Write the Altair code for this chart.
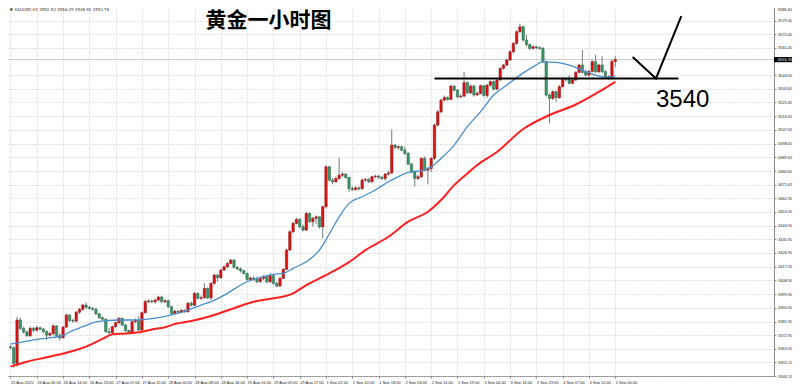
import altair as alt
import pandas as pd

# ---------------- data ----------------
open_ = [3365.4, 3364.7, 3354.4, 3382.9, 3377.4, 3375.0, 3372.6, 3377.4, 3376.2, 3377.8,
         3377.0, 3375.4, 3373.0, 3374.0, 3379.0, 3372.6, 3371.2, 3378.2, 3386.1, 3382.6,
         3382.2, 3388.0, 3389.9, 3392.7, 3391.2, 3390.5, 3390.0, 3387.0, 3384.4, 3383.4,
         3375.2, 3374.6, 3378.5, 3381.1, 3384.0, 3379.6, 3375.9, 3374.6, 3381.8, 3382.6,
         3376.3, 3387.7, 3394.9, 3395.4, 3394.9, 3396.0, 3398.0, 3394.9, 3395.6, 3391.6,
         3387.2, 3388.6, 3388.0, 3389.2, 3388.3, 3393.8, 3392.6, 3400.3, 3397.1, 3397.6,
         3403.6, 3397.4, 3406.9, 3412.4, 3410.6, 3415.7, 3417.8, 3420.0, 3422.2, 3417.4,
         3416.4, 3415.2, 3413.4, 3409.5, 3410.4, 3409.6, 3408.0, 3410.2, 3411.3, 3408.0,
         3412.0, 3406.9, 3405.2, 3410.2, 3416.1, 3428.8, 3440.8, 3446.3, 3448.9, 3444.1,
         3441.9, 3452.8, 3447.4, 3449.6, 3450.6, 3444.0, 3457.2, 3483.4, 3474.7, 3473.6,
         3475.8, 3477.9, 3478.6, 3476.4, 3469.2, 3468.5, 3469.6, 3469.0, 3474.7, 3475.1,
         3473.6, 3476.9, 3477.3, 3476.6, 3475.8, 3478.6, 3479.4, 3497.6, 3496.1, 3496.6,
         3494.3, 3492.2, 3485.2, 3480.1, 3475.8, 3476.9, 3488.9, 3481.2, 3482.3, 3488.9,
         3510.8, 3519.5, 3527.2, 3528.9, 3527.6, 3536.3, 3533.7, 3529.3, 3529.8, 3538.6,
         3532.0, 3536.4, 3530.6, 3531.6, 3536.6, 3530.2, 3537.0, 3539.3, 3534.4, 3540.4,
         3548.0, 3550.2, 3553.5, 3558.9, 3564.4, 3572.1, 3575.3, 3566.6, 3563.6, 3561.1,
         3562.2, 3561.6, 3561.1, 3552.4, 3530.5, 3528.3, 3532.7, 3528.8, 3536.0, 3541.4,
         3540.8, 3538.2, 3540.4, 3545.4, 3550.2, 3545.4, 3543.6, 3546.0, 3552.4, 3545.8,
         3550.2, 3545.8, 3542.5, 3541.4, 3552.53]

high_ = [3366.2, 3365.5, 3385.0, 3384.5, 3378.5, 3376.0, 3378.6, 3378.4, 3379.0, 3378.6,
         3377.8, 3376.0, 3375.2, 3380.2, 3379.6, 3374.4, 3379.0, 3387.2, 3386.8, 3383.8,
         3388.8, 3390.8, 3393.6, 3394.4, 3392.0, 3391.4, 3390.6, 3387.6, 3385.2, 3384.0,
         3377.6, 3379.2, 3382.0, 3384.8, 3384.6, 3380.2, 3376.6, 3382.6, 3384.0, 3385.4,
         3388.4, 3396.0, 3396.4, 3396.2, 3397.0, 3398.8, 3398.8, 3396.6, 3396.2, 3392.2,
         3389.6, 3389.4, 3390.0, 3390.0, 3394.8, 3395.0, 3401.2, 3401.0, 3399.0, 3406.9,
         3404.2, 3407.8, 3413.2, 3413.0, 3416.6, 3418.6, 3421.0, 3423.0, 3422.8, 3418.2,
         3417.4, 3415.8, 3414.0, 3411.4, 3411.6, 3411.4, 3411.0, 3412.4, 3411.8, 3413.6,
         3412.6, 3408.0, 3411.0, 3417.0, 3429.8, 3441.8, 3447.2, 3450.0, 3449.6, 3445.6,
         3453.9, 3453.4, 3450.6, 3451.6, 3451.0, 3458.0, 3484.6, 3484.0, 3476.0, 3477.0,
         3489.5, 3480.0, 3479.2, 3477.0, 3470.6, 3470.8, 3470.6, 3475.8, 3476.0, 3476.0,
         3477.6, 3478.2, 3478.0, 3477.4, 3479.4, 3481.0, 3507.9, 3498.6, 3497.6, 3497.2,
         3496.6, 3493.0, 3486.0, 3481.0, 3478.0, 3489.8, 3490.2, 3483.2, 3489.8, 3511.8,
         3520.6, 3528.2, 3530.2, 3529.6, 3537.4, 3537.0, 3534.4, 3531.0, 3545.7, 3539.4,
         3537.6, 3537.2, 3533.0, 3537.4, 3537.2, 3537.8, 3540.2, 3540.0, 3541.2, 3548.8,
         3551.0, 3554.4, 3559.8, 3565.4, 3573.0, 3577.4, 3576.0, 3570.0, 3564.4, 3563.0,
         3562.8, 3562.4, 3562.0, 3553.0, 3531.6, 3533.6, 3533.4, 3537.0, 3542.4, 3542.2,
         3543.6, 3541.2, 3546.2, 3551.0, 3560.0, 3547.0, 3547.0, 3553.4, 3556.8, 3551.0,
         3556.0, 3547.0, 3543.6, 3554.0, 3556.29]

low_ = [3363.8, 3351.5, 3352.3, 3376.5, 3374.0, 3371.8, 3371.8, 3375.0, 3375.2, 3376.0,
        3374.2, 3369.8, 3372.0, 3372.8, 3371.6, 3369.4, 3370.8, 3377.6, 3381.6, 3381.0,
        3381.2, 3387.0, 3389.0, 3390.4, 3389.6, 3389.0, 3386.2, 3383.6, 3382.4, 3374.6,
        3373.4, 3374.0, 3377.8, 3380.4, 3379.0, 3375.2, 3373.6, 3374.0, 3380.8, 3375.6,
        3375.6, 3387.0, 3394.0, 3394.0, 3393.6, 3395.2, 3394.2, 3394.0, 3391.0, 3386.1,
        3386.6, 3387.0, 3387.4, 3387.6, 3387.8, 3391.8, 3392.0, 3396.4, 3396.0, 3396.8,
        3396.6, 3396.0, 3406.0, 3408.0, 3410.0, 3415.0, 3417.0, 3419.4, 3416.8, 3415.6,
        3414.0, 3412.8, 3408.6, 3408.8, 3408.6, 3407.0, 3407.4, 3409.0, 3407.0, 3407.4,
        3406.0, 3404.3, 3404.8, 3409.6, 3415.6, 3428.0, 3440.0, 3445.6, 3443.0, 3441.0,
        3441.2, 3446.6, 3444.0, 3445.8, 3442.9, 3436.4, 3456.0, 3473.8, 3472.0, 3473.0,
        3475.0, 3476.8, 3475.6, 3467.0, 3467.6, 3468.0, 3467.8, 3468.4, 3473.8, 3472.8,
        3473.0, 3476.0, 3475.4, 3474.8, 3474.2, 3477.8, 3478.8, 3495.0, 3494.4, 3493.6,
        3491.4, 3484.4, 3479.2, 3470.3, 3474.6, 3476.0, 3480.4, 3472.0, 3480.0, 3488.0,
        3510.0, 3518.6, 3526.4, 3526.8, 3527.0, 3532.8, 3528.4, 3528.6, 3529.0, 3531.0,
        3531.2, 3529.4, 3530.0, 3531.0, 3529.4, 3528.6, 3536.0, 3533.6, 3533.6, 3539.8,
        3547.2, 3549.4, 3552.8, 3558.0, 3563.6, 3571.2, 3565.6, 3562.6, 3560.2, 3560.4,
        3560.6, 3560.2, 3551.6, 3529.6, 3511.9, 3527.2, 3526.0, 3528.0, 3535.4, 3539.4,
        3537.4, 3537.6, 3539.6, 3544.6, 3544.6, 3542.8, 3542.6, 3545.4, 3545.0, 3545.0,
        3545.0, 3541.0, 3540.4, 3540.6, 3548.92]

close_ = [3364.7, 3354.4, 3382.9, 3377.4, 3375.0, 3372.6, 3377.4, 3376.2, 3377.8, 3377.0,
          3375.4, 3373.0, 3374.0, 3379.0, 3372.6, 3371.2, 3378.2, 3386.1, 3382.6, 3382.2,
          3388.0, 3389.9, 3392.7, 3391.2, 3390.5, 3390.0, 3387.0, 3384.4, 3383.4, 3375.2,
          3374.6, 3378.5, 3381.1, 3384.0, 3379.6, 3375.9, 3374.6, 3381.8, 3382.6, 3376.3,
          3387.7, 3394.9, 3395.4, 3394.9, 3396.0, 3398.0, 3394.9, 3395.6, 3391.6, 3387.2,
          3388.6, 3388.0, 3389.2, 3388.3, 3393.8, 3392.6, 3400.3, 3397.1, 3397.6, 3403.6,
          3397.4, 3406.9, 3412.4, 3410.6, 3415.7, 3417.8, 3420.0, 3422.2, 3417.4, 3416.4,
          3415.2, 3413.4, 3409.5, 3410.4, 3409.6, 3408.0, 3410.2, 3411.3, 3408.0, 3412.0,
          3406.9, 3405.2, 3410.2, 3416.1, 3428.8, 3440.8, 3446.3, 3448.9, 3444.1, 3441.9,
          3452.8, 3447.4, 3449.6, 3450.6, 3444.0, 3457.2, 3483.4, 3474.7, 3473.6, 3475.8,
          3477.9, 3478.6, 3476.4, 3469.2, 3468.5, 3469.6, 3469.0, 3474.7, 3475.1, 3473.6,
          3476.9, 3477.3, 3476.6, 3475.8, 3478.6, 3479.4, 3497.6, 3496.1, 3496.6, 3494.3,
          3492.2, 3485.2, 3480.1, 3475.8, 3476.9, 3488.9, 3481.2, 3482.3, 3488.9, 3510.8,
          3519.5, 3527.2, 3528.9, 3527.6, 3536.3, 3533.7, 3529.3, 3529.8, 3538.6, 3532.0,
          3536.4, 3530.6, 3531.6, 3536.6, 3530.2, 3537.0, 3539.3, 3534.4, 3540.4, 3548.0,
          3550.2, 3553.5, 3558.9, 3564.4, 3572.1, 3575.3, 3566.6, 3563.6, 3561.1, 3562.2,
          3561.6, 3561.1, 3552.4, 3530.5, 3528.3, 3532.7, 3528.8, 3536.0, 3541.4, 3540.8,
          3538.2, 3540.4, 3545.4, 3550.2, 3545.4, 3543.6, 3546.0, 3552.4, 3545.8, 3550.2,
          3545.8, 3542.5, 3541.4, 3552.53, 3553.76]

# moving averages (bar index, price)
fast_ma_bar = [0, 3, 8, 13, 16, 18, 22, 26, 29, 33, 37, 41, 45, 49, 54, 58, 61, 66, 71, 76,
               80, 83, 86, 90, 94, 97, 100, 103, 107, 111, 115, 119, 122, 125, 128, 131, 135,
               139, 143, 147, 151, 155, 159, 162, 166, 170, 174, 178, 181, 184]
fast_ma_val = [3367.1, 3368.2, 3370.2, 3371.5, 3372.6, 3375.0, 3378.5, 3381.6, 3382.4, 3382.9,
               3382.9, 3383.3, 3384.4, 3386.2, 3389.4, 3392.7, 3394.9, 3400.4, 3407.0, 3410.9,
               3412.9, 3413.5, 3416.8, 3421.1, 3428.8, 3439.3, 3450.6, 3459.4, 3463.8, 3468.2,
               3473.6, 3478.0, 3480.2, 3480.8, 3483.4, 3488.9, 3497.7, 3509.8, 3519.5, 3530.5,
               3537.0, 3543.6, 3549.0, 3552.3, 3551.9, 3550.2, 3546.9, 3543.6, 3542.1, 3543.1]
slow_ma_bar = [0, 5, 11, 17, 23, 28, 31, 35, 40, 43, 47, 50, 55, 62, 68, 74, 78, 82, 86, 90,
               94, 97, 103, 108, 115, 121, 127, 131, 135, 139, 142, 148, 156, 164, 172, 179, 184]
slow_ma_val = [3352.3, 3355.5, 3358.4, 3361.4, 3365.4, 3370.5, 3373.6, 3374.1, 3375.2, 3376.7,
               3378.1, 3380.3, 3382.2, 3386.2, 3390.6, 3394.9, 3396.5, 3397.8, 3400.4, 3405.8,
               3410.2, 3413.5, 3420.9, 3428.8, 3437.5, 3447.4, 3453.9, 3461.6, 3471.4, 3479.1,
               3484.6, 3493.1, 3508.2, 3517.4, 3524.3, 3532.6, 3539.2]

price_ticks = [3579.40, 3570.40, 3561.40, 3543.65, 3534.65, 3525.65, 3516.65,
               3507.65, 3498.65, 3489.65, 3480.65, 3471.65, 3462.90, 3453.90, 3444.90,
               3435.90, 3426.90, 3417.90, 3408.90, 3399.90, 3390.90, 3381.90, 3372.90,
               3363.90, 3355.15, 3346.15]
top_price_tick = 3588.40
time_label_bars = [0, 8, 16, 24, 32, 40, 48, 56, 64, 72, 80, 88, 96, 104, 112, 120,
                   128, 136, 144, 152, 160, 168, 176, 184]
time_labels = ["25 Aug 2025", "26 Aug 06:00", "26 Aug 14:00", "26 Aug 23:00", "27 Aug 07:00",
               "27 Aug 15:00", "28 Aug 00:00", "28 Aug 08:00", "28 Aug 16:00", "29 Aug 01:00",
               "29 Aug 09:00", "29 Aug 17:00", "1 Sep 02:00", "1 Sep 10:00", "1 Sep 18:00",
               "2 Sep 03:00", "2 Sep 11:00", "2 Sep 19:00", "3 Sep 04:00", "3 Sep 14:00",
               "3 Sep 23:00", "4 Sep 07:00", "4 Sep 15:00", "5 Sep 00:00"]

last_price = 3553.76
header_text = "▼ XAUUSD,H1  3552.53 3556.29 3548.92 3553.76"
title_text = "黄金一小时图"
level_text = "3540"
support_level = 3541.4
support_bars = [129.0, 203.2]
check_bars = [189.3, 196.4, 204.1]
check_prices = [3555.4, 3541.4, 3582.3]
title_pos = (78.5, 3579.2)
level_pos = (204.5, 3527.0)
header_pos = (-0.2, 3586.4)
top_tick_label_price = 3586.6

# ---------------- chart ----------------
UP, DOWN = "#dc1414", "#3b9a6b"
UP_EDGE, DOWN_EDGE = "#8a0b0b", "#24583f"
W, H = 770, 372
PX_PER_BAR = 3.33

xs = alt.Scale(domain=[-0.45, -0.45 + W / PX_PER_BAR], nice=False, zero=False)
ys = alt.Scale(domain=[3346.15, 3590.25], nice=False, zero=False)

label_expr = "[" + ",".join("'" + t + "'" for t in time_labels) + "][round(datum.value / 8)]"
x_axis = alt.Axis(values=time_label_bars, labelExpr=label_expr, grid=True, gridDash=[1, 2],
                  gridColor="#c6c6c6", domain=False, tickSize=2, tickColor="#808080",
                  labelAlign="left", labelFontSize=4, labelFont="Liberation Sans",
                  labelColor="#222222", labelPadding=2, labelOverlap=False, labelFlush=False,
                  title=None)
y_axis = alt.Axis(orient="right", values=price_ticks + [top_price_tick], format=".2f",
                  labelExpr="datum.value > 3588 ? '' : datum.label",
                  grid=True, gridDash=[1, 2],
                  gridColor="#c6c6c6", domain=False, tickSize=2, tickColor="#808080",
                  labelFontSize=4, labelFont="Liberation Sans", labelColor="#222222",
                  labelPadding=1.5, labelOverlap=False, labelFlush=False, title=None)


def X(field):
    return alt.X(field, type="quantitative", scale=xs, axis=x_axis)


def Y(field):
    return alt.Y(field, type="quantitative", scale=ys, axis=y_axis)


bars = pd.DataFrame({"bar": list(range(len(close_))), "open": open_, "high": high_,
                     "low": low_, "close": close_})

price_line = alt.Chart(pd.DataFrame({"price": [last_price]})).mark_rule(
    color="#c8c8c8", strokeWidth=1).encode(y=Y("price"))

wicks = alt.Chart(bars).mark_rule(color="#7a7a7a", strokeWidth=1).encode(
    x=X("bar"), y=Y("low"), y2="high")

is_up = "datum.close >= datum.open"
bodies = alt.Chart(bars).mark_bar(size=2.4, strokeWidth=0.5).encode(
    x=X("bar"), y=Y("open"), y2="close",
    color=alt.condition(is_up, alt.value(UP), alt.value(DOWN)),
    stroke=alt.condition(is_up, alt.value(UP_EDGE), alt.value(DOWN_EDGE)))

fast = alt.Chart(pd.DataFrame({"bar": fast_ma_bar, "price": fast_ma_val})).mark_line(
    color="#4a8dcb", strokeWidth=1.3, interpolate="monotone").encode(x=X("bar"), y=Y("price"))
slow = alt.Chart(pd.DataFrame({"bar": slow_ma_bar, "price": slow_ma_val})).mark_line(
    color="#ff1f1f", strokeWidth=2, interpolate="monotone").encode(x=X("bar"), y=Y("price"))

support = alt.Chart(pd.DataFrame({"bar": [support_bars[0]], "bar2": [support_bars[1]],
                                  "price": [support_level]})).mark_rule(
    color="black", strokeWidth=2).encode(x=X("bar"), x2="bar2", y=Y("price"))

check = alt.Chart(pd.DataFrame({"bar": check_bars, "price": check_prices,
                                "k": [0, 1, 2]})).mark_line(
    color="black", strokeWidth=2).encode(x=X("bar"), y=Y("price"), order="k:Q")

title = alt.Chart(pd.DataFrame({"bar": [title_pos[0]], "price": [title_pos[1]],
                                "t": [title_text]})).mark_text(
    font="Noto Sans CJK SC", fontSize=21, fontWeight="bold", color="black").encode(
    x=X("bar"), y=Y("price"), text="t:N")

level = alt.Chart(pd.DataFrame({"bar": [level_pos[0]], "price": [level_pos[1]],
                                "t": [level_text]})).mark_text(
    font="Liberation Sans", fontSize=24, color="black").encode(
    x=X("bar"), y=Y("price"), text="t:N")

header = alt.Chart(pd.DataFrame({"bar": [header_pos[0]], "price": [header_pos[1]],
                                 "t": [header_text]})).mark_text(
    font="DejaVu Sans", fontSize=4, align="left", color="#333333").encode(
    x=X("bar"), y=Y("price"), text="t:N")

top_label = alt.Chart(pd.DataFrame({"price": [top_tick_label_price],
                                    "t": [f"{top_price_tick:.2f}"]})).mark_text(
    font="Liberation Sans", fontSize=4, align="left", color="#222222").encode(
    x=alt.value(W + 3.5), y=Y("price"), text="t:N")

box = alt.Chart(pd.DataFrame({"lo": [last_price - 1.7], "hi": [last_price + 1.7]})).mark_rect(
    color="black").encode(x=alt.value(W), x2=alt.value(W + 18), y=Y("lo"), y2="hi")
box_text = alt.Chart(pd.DataFrame({"price": [last_price], "t": ["3553.76"]})).mark_text(
    font="Liberation Sans", fontSize=4, align="left", color="white").encode(
    x=alt.value(W + 3.5), y=Y("price"), text="t:N")

chart = alt.layer(price_line, wicks, bodies, fast, slow, support, check, title, level,
                  header, top_label, box, box_text).properties(
    width=W, height=H,
    autosize=alt.AutoSizeParams(type="none"),
    padding={"left": -4, "top": -4, "right": 18, "bottom": 8},
    background="white",
).configure_view(stroke="#8a8a8a", strokeWidth=1)

chart.save("out.html", embed_options={"renderer": "svg", "actions": False})
